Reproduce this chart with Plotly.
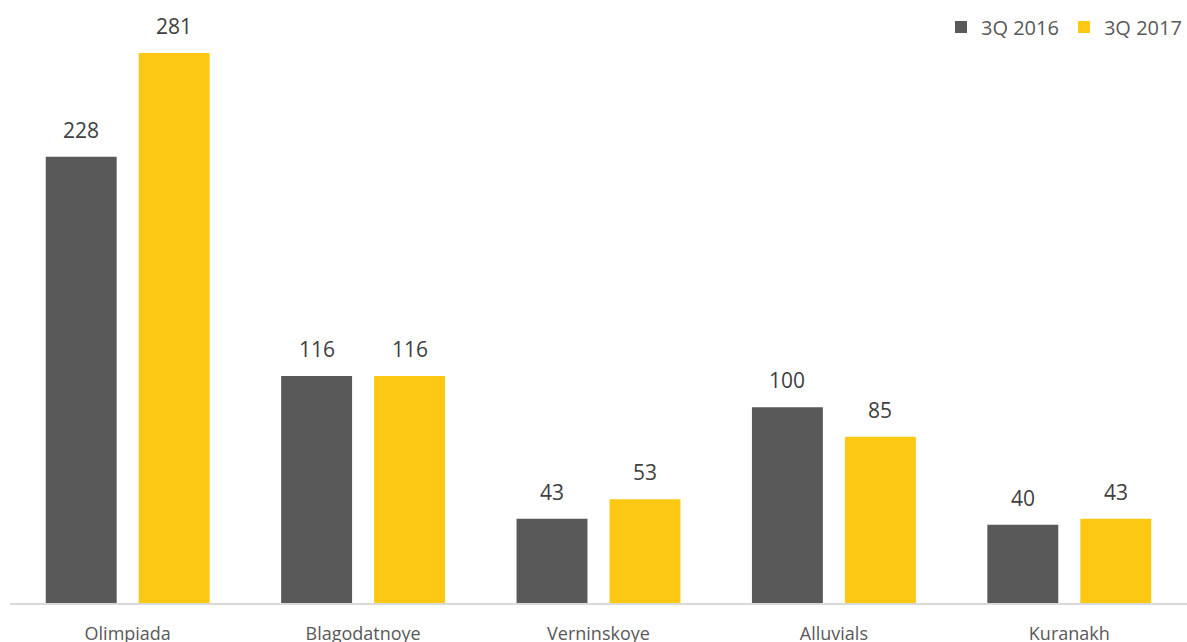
import plotly.graph_objects as go

categories = ["Olimpiada", "Blagodatnoye", "Verninskoye", "Alluvials", "Kuranakh"]
series_names = ["3Q 2016", "3Q 2017"]
values_2016 = [228, 116, 43, 100, 40]
values_2017 = [281, 116, 53, 85, 43]

colors = ["#595959", "#FCC814"]
text_color = "#404040"
font_family = "Open Sans, Liberation Sans, sans-serif"

fig = go.Figure()
for name, vals, col in zip(series_names, [values_2016, values_2017], colors):
    fig.add_trace(go.Bar(x=categories, y=vals, name=name, marker_color=col,
                         marker_line_width=0))

annotations = []
for vals, shift in zip([values_2016, values_2017], [-46.5, 46.5]):
    for c, v in zip(categories, vals):
        annotations.append(dict(x=c, y=v, xref="x", yref="y", text=str(v),
                                showarrow=False, xshift=shift, yanchor="bottom",
                                yshift=11, font=dict(size=21, color=text_color,
                                                     family=font_family)))

fig.update_layout(
    width=1187, height=642,
    margin=dict(l=10, r=0, t=30, b=39, autoexpand=False),
    paper_bgcolor="white", plot_bgcolor="white",
    barmode="group", bargap=0.21, bargroupgap=0.237,
    annotations=annotations,
    legend=dict(orientation="h", x=1, xanchor="right", y=1 - 27/642,
                yref="container", yanchor="middle",
                font=dict(size=20, color="#595959", family=font_family),
                itemwidth=30, traceorder="normal"),
    xaxis=dict(showline=True, linecolor="#D9D9D9", linewidth=2,
               ticks="outside", ticklen=13, tickcolor="rgba(0,0,0,0)",
               tickfont=dict(size=18, color="#595959", family=font_family)),
    yaxis=dict(visible=False, range=[0, 292.8], showgrid=False),
    font=dict(family=font_family),
)

fig.write_html("out.html", config={"displayModeBar": False},
               post_script="document.body.style.margin='0';document.body.style.overflow='hidden';")
